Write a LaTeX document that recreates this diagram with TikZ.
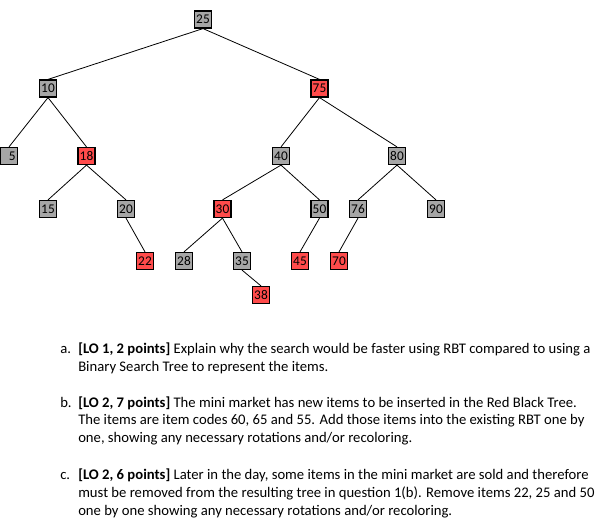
\documentclass[tikz,border=0pt]{standalone}
\usepackage{fontspec}
\setmainfont{Carlito}
\usetikzlibrary{positioning}
\definecolor{nodegrey}{HTML}{A6A6A6}
\definecolor{nodered}{HTML}{FF4B4B}

\begin{document}
\begin{tikzpicture}[x=0.75pt,y=-0.75pt,
    blk/.style={draw=black,line width=0.9pt,fill=nodegrey,minimum size=12.75pt,inner sep=0pt,font=\fontsize{10}{12}\selectfont},
    rd/.style={blk,fill=nodered},
    edge/.style={line width=0.6pt},
    para/.style={anchor=north west,align=left,inner sep=0pt,font=\fontsize{11}{13.3}\selectfont}]
        \useasboundingbox (0,0) rectangle (603,523);
        % tree nodes
        \node[blk] (n25) at (203,19.5) {25};
        \node[blk] (n10) at (48,88.5) {10};
        \node[rd]  (n75) at (319.5,88.5) {75};
        \node[blk] (n5)  at (9,156) {\hphantom{0}5};
        \node[rd]  (n18) at (86.5,156) {18};
        \node[blk] (n40) at (281,156) {40};
        \node[blk] (n80) at (397,156) {80};
        \node[blk] (n15) at (48,209) {15};
        \node[blk] (n20) at (126,209) {20};
        \node[rd]  (n30) at (222.5,209) {30};
        \node[blk] (n50) at (319.5,209) {50};
        \node[blk] (n76) at (358,209) {76};
        \node[blk] (n90) at (436,209) {90};
        \node[rd]  (n22) at (145,261) {22};
        \node[blk] (n28) at (184,261) {28};
        \node[blk] (n35) at (242,261) {35};
        \node[rd]  (n45) at (300,261) {45};
        \node[rd]  (n70) at (339,261) {70};
        \node[rd]  (n38) at (261,295) {38};
        % links
        \foreach \p/\c in {25/10,25/75,10/5,10/18,75/40,75/80,18/15,18/20,
                           40/30,40/50,80/76,80/90,20/22,30/28,30/35,50/45,76/70,35/38} {
          \draw[edge] (n\p.south) -- (n\c.north);
        }
        % questions
        \node[para] (la) at (60,341) {a.\strut};
        \node[para] (qa) at (78,341) {\strut\textbf{[LO 1, 2 points]} Explain why the search would be faster using RBT compared to using a\\Binary Search Tree to represent the items.};
        \node[para] (lb) at (60,394.5) {b.\strut};
        \node[para] (qb) at (78,394.5) {\strut\textbf{[LO 2, 7 points]} The mini market has new items to be inserted in the Red Black Tree.\\The items are item codes 60, 65 and 55. Add those items into the existing RBT one by\\one, showing any necessary rotations and/or recoloring.};
        \node[para] (lc) at (60,467) {c.\strut};
        \node[para] (qc) at (78,467) {\strut\textbf{[LO 2, 6 points]} Later in the day, some items in the mini market are sold and therefore\\must be removed from the resulting tree in question 1(b). Remove items 22, 25 and 50\\one by one showing any necessary rotations and/or recoloring.};
      \end{tikzpicture}
\end{document}
